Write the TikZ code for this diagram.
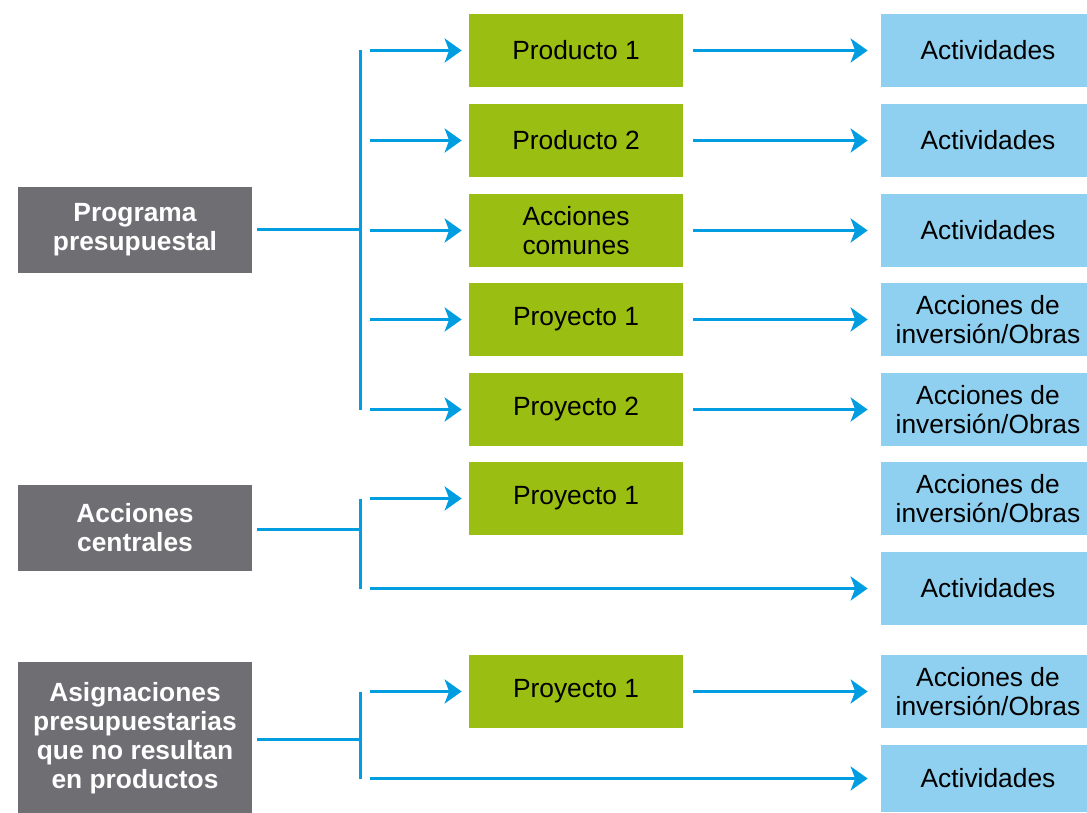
\documentclass[tikz,border=0pt]{standalone}
\usepackage{fontspec}
\setmainfont{Liberation Sans}
\usepackage{xcolor}
\usetikzlibrary{arrows.meta}
\definecolor{boxgray}{RGB}{111,110,115}
\definecolor{boxgreen}{RGB}{155,190,18}
\definecolor{boxblue}{RGB}{143,208,240}
\definecolor{linkblue}{RGB}{0,158,224}

\begin{document}
\begin{tikzpicture}[link/.style={draw=linkblue,line width=0.06cm},
    arr/.style={link,-{Stealth[length=0.34cm,width=0.48cm,inset=0.09cm]},shorten <=0.2cm}]
  \useasboundingbox (0,0) rectangle (21.74,16.24);
  \begin{scope}[every node/.style={fill=boxgray,text=white,font=\fontsize{15}{16.5}\selectfont\bfseries,
      align=center,inner sep=0pt,minimum width=4.68cm,minimum height=1.72cm}]
  \node (g1) at (2.70,11.64) {Programa\\presupuestal};
  \node (g2) at (2.70,5.68) {Acciones\\centrales};
  \node[minimum height=3.04cm] (g3) at (2.70,1.48) {Asignaciones\\presupuestarias\\que no resultan\\en productos};
  \end{scope}
  \begin{scope}[every node/.style={fill=boxgreen,font=\fontsize{15}{16.5}\selectfont,
      align=center,inner sep=0pt,minimum width=4.28cm,minimum height=1.46cm}]
  \node (p1) at (11.52,15.23) {Producto 1};
  \node (p2) at (11.52,13.43) {Producto 2};
  \node (p3) at (11.52,11.63) {Acciones\\comunes};
  \node (p4) at (11.52,9.85) {Proyecto 1};
  \node (p5) at (11.52,8.05) {Proyecto 2};
  \node (p6) at (11.52,6.27) {Proyecto 1};
  \node (p7) at (11.52,2.41) {Proyecto 1};
  \end{scope}
  \begin{scope}[every node/.style={fill=boxblue,font=\fontsize{15}{16.5}\selectfont,
      align=center,inner sep=0pt,minimum width=4.28cm,minimum height=1.46cm}]
  \node (a1) at (19.76,15.23) {Actividades};
  \node (a2) at (19.76,13.43) {Actividades};
  \node (a3) at (19.76,11.63) {Actividades};
  \node (a4) at (19.76,9.85) {Acciones de\\inversión/Obras};
  \node (a5) at (19.76,8.05) {Acciones de\\inversión/Obras};
  \node (a6) at (19.76,6.27) {Acciones de\\inversión/Obras};
  \node (a7) at (19.76,4.47) {Actividades};
  \node (a8) at (19.76,2.41) {Acciones de\\inversión/Obras};
  \node[minimum height=1.34cm] (a9) at (19.76,0.67) {Actividades};
  \end{scope}
  \coordinate (b1) at (7.2,11.64);
  \coordinate (b2) at (7.2,5.66);
  \coordinate (b3) at (7.2,1.46);
  \draw[link,shorten <=0.1cm] (g1.east |- b1) -- (b1);
  \draw[link,shorten <=0.1cm] (g2.east |- b2) -- (b2);
  \draw[link,shorten <=0.1cm] (g3.east |- b3) -- (b3);
  \draw[link] (b1 |- p1) -- (b1 |- p5);
  \draw[link] (b2 |- p6) -- (b2 |- a7);
  \draw[link] (b3 |- p7) -- (b3 |- a9);
  \draw[arr,shorten >=0.14cm] (b1 |- p1) -- (p1.west);
  \draw[arr,shorten >=0.14cm] (b1 |- p2) -- (p2.west);
  \draw[arr,shorten >=0.14cm] (b1 |- p3) -- (p3.west);
  \draw[arr,shorten >=0.14cm] (b1 |- p4) -- (p4.west);
  \draw[arr,shorten >=0.14cm] (b1 |- p5) -- (p5.west);
  \draw[arr,shorten >=0.14cm] (b2 |- p6) -- (p6.west);
  \draw[arr,shorten >=0.26cm] (b2 |- a7) -- (a7.west);
  \draw[arr,shorten >=0.14cm] (b3 |- p7) -- (p7.west);
  \draw[arr,shorten >=0.26cm] (b3 |- a9) -- (a9.west);
  \draw[arr,shorten >=0.26cm] (p1.east) -- (a1.west);
  \draw[arr,shorten >=0.26cm] (p2.east) -- (a2.west);
  \draw[arr,shorten >=0.26cm] (p3.east) -- (a3.west);
  \draw[arr,shorten >=0.26cm] (p4.east) -- (a4.west);
  \draw[arr,shorten >=0.26cm] (p5.east) -- (a5.west);
  \draw[arr,shorten >=0.26cm] (p7.east) -- (a8.west);
\end{tikzpicture}
\end{document}
